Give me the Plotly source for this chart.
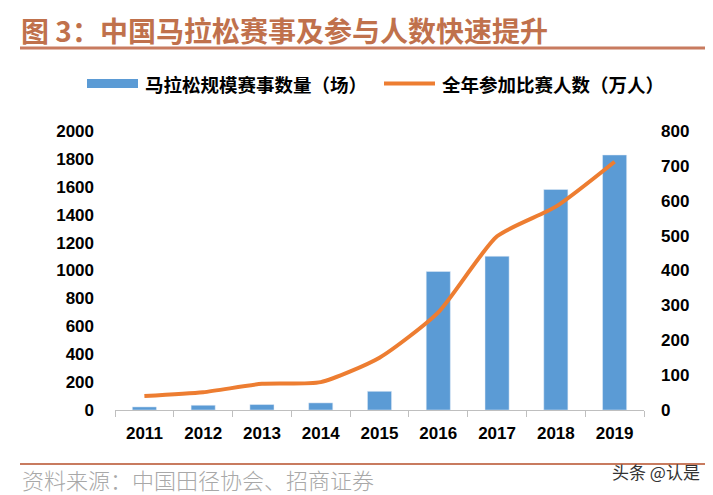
import plotly.graph_objects as go

years = ["2011", "2012", "2013", "2014", "2015", "2016", "2017", "2018", "2019"]
events = [22, 34, 39, 51, 134, 993, 1102, 1581, 1828]
participants = [40, 51, 75, 80, 150, 280, 498, 583, 712]

bar_name = "马拉松规模赛事数量（场）"
line_name = "全年参加比赛人数（万人）"
title_text = "图 3：中国马拉松赛事及参与人数快速提升"
source_text = "资料来源：中国田径协会、招商证券"
watermark = "头条 @认是"

# the page body has an 8px margin; compensate so screen pixels match
OFF = 8
W, H = 713 - OFF, 495 - OFF
L, R, T, B = 115 - OFF, 644 - OFF, 131 - OFF, 410 - OFF


def px(x):
    return (x - OFF - L) / (R - L)


def py(y):
    return (B - (y - OFF)) / (B - T)


BLUE = "#5B9BD5"
ORANGE = "#ED7D31"
TITLE_C = "#C0714C"

fig = go.Figure()
fig.add_trace(go.Bar(x=years, y=events, marker_color=BLUE, name=bar_name, yaxis="y"))
fig.add_trace(go.Scatter(x=years, y=participants, mode="lines", name=line_name,
                         line=dict(color=ORANGE, width=4, shape="spline", smoothing=0.6),
                         yaxis="y2"))

tickfont = dict(family="Liberation Sans, Arial", size=17, color="#000000", weight="bold")

fig.update_layout(
    width=W, height=H,
    margin=dict(l=L, r=W - R, t=T, b=H - B, pad=0),
    paper_bgcolor="white", plot_bgcolor="white",
    showlegend=False,
    bargap=0.59,
    xaxis=dict(type="category", showline=True, linecolor="#BFBFBF", linewidth=1,
               ticks="outside", tickson="boundaries", ticklen=6, tickcolor="#BFBFBF",
               tickfont=tickfont, showgrid=False, ticklabelstandoff=8),
    yaxis=dict(range=[0, 2000], dtick=200, showgrid=False, zeroline=False,
               showline=False, tickfont=tickfont, ticklabelstandoff=20),
    yaxis2=dict(range=[0, 800], dtick=100, overlaying="y", side="right",
                showgrid=False, zeroline=False, showline=False,
                tickfont=tickfont, ticklabelstandoff=16),
)

shapes = []
# title underline
shapes.append(dict(type="line", xref="paper", yref="paper",
                   x0=px(20), x1=px(705), y0=py(48), y1=py(48),
                   line=dict(color="#C87B5F", width=3)))
# bottom line
shapes.append(dict(type="line", xref="paper", yref="paper",
                   x0=px(20), x1=px(705), y0=py(464), y1=py(464),
                   line=dict(color="#C87B5F", width=2)))
# legend markers
shapes.append(dict(type="rect", xref="paper", yref="paper",
                   x0=px(87), x1=px(138), y0=py(88), y1=py(79),
                   fillcolor=BLUE, line=dict(width=0)))
shapes.append(dict(type="line", xref="paper", yref="paper",
                   x0=px(384), x1=px(435), y0=py(83.5), y1=py(83.5),
                   line=dict(color=ORANGE, width=4)))
fig.update_layout(shapes=shapes)

cjk = "Noto Sans CJK SC"
annotations = [
    dict(text=title_text, x=px(19), y=py(30), xref="paper", yref="paper",
         xanchor="left", yanchor="middle", showarrow=False,
         font=dict(family=cjk, size=28, color=TITLE_C, weight="bold")),
    dict(text=bar_name, x=px(143), y=py(84), xref="paper", yref="paper",
         xanchor="left", yanchor="middle", showarrow=False,
         font=dict(family=cjk, size=18.5, color="#000000", weight="bold")),
    dict(text=line_name, x=px(440), y=py(84), xref="paper", yref="paper",
         xanchor="left", yanchor="middle", showarrow=False,
         font=dict(family=cjk, size=18.5, color="#000000", weight="bold")),
    dict(text=source_text, x=px(21), y=py(479), xref="paper", yref="paper",
         xanchor="left", yanchor="middle", showarrow=False, borderpad=0,
         font=dict(family=cjk, size=22, color="#A8A8A8", weight=300)),
    dict(text=watermark, x=px(702), y=py(471), xref="paper", yref="paper",
         xanchor="right", yanchor="middle", showarrow=False,
         font=dict(family=cjk, size=17, color="#333333")),
]
fig.update_layout(annotations=annotations)

fig.write_html("out.html")
